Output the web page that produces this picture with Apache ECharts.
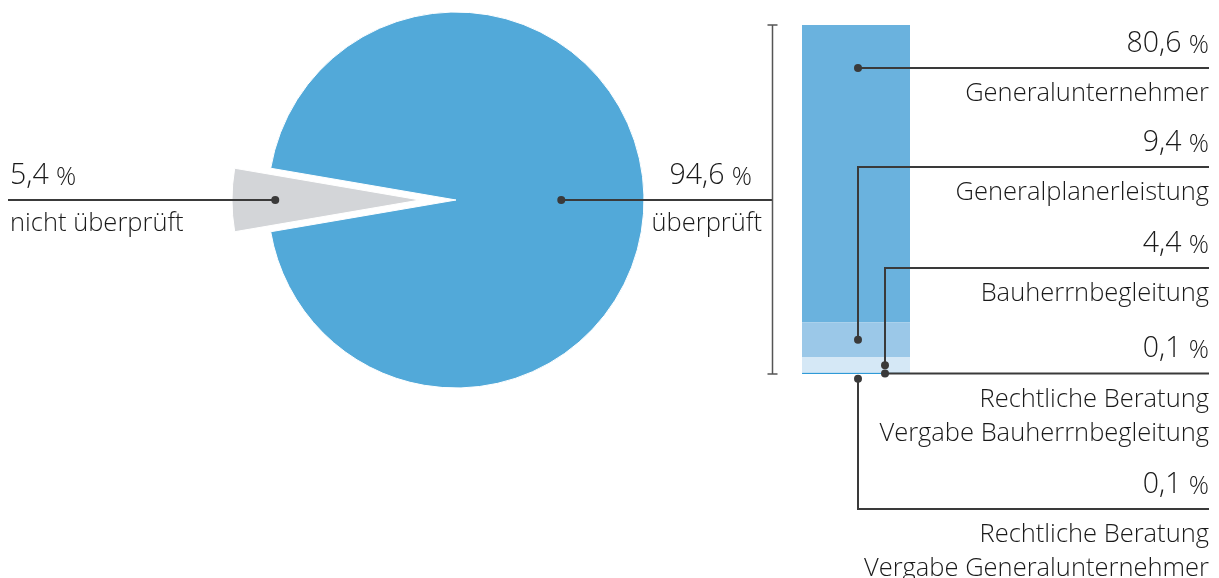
<!DOCTYPE html>
<html>
<head>
<meta charset="utf-8">
<script src="https://cdn.jsdelivr.net/npm/echarts@6/dist/echarts.min.js"></script>
<style>
html, body { margin: 0; padding: 0; background: #fff; }
#main { width: 1219px; height: 578px; }
</style>
</head>
<body>
<div id="main"></div>
<script>
// data
var pieNames = ['nicht überprüft', 'überprüft'];
var pieValues = [5.4, 94.6];
var pieLabels = ['5,4', '94,6'];

var barNames = [
    'Generalunternehmer',
    'Generalplanerleistung',
    'Bauherrnbegleitung',
    'Rechtliche Beratung\nVergabe Bauherrnbegleitung',
    'Rechtliche Beratung\nVergabe Generalunternehmer'
];
var barValues = [80.6, 9.4, 4.4, 0.1, 0.1];
var barLabels = ['80,6', '9,4', '4,4', '0,1', '0,1'];

// styles / layout
var FONT = '"Open Sans", "DejaVu Sans", sans-serif';
var TXT = '#1a1a1a';
var LINE = '#3a3a3a';
var pieColors = ['#d3d5d8', '#52a9d9'];
var barColors = ['#6ab2de', '#9bc8e8', '#d5e8f6', '#2f9bd7', '#d5e8f6'];
var barBorder = [0, 0, 0, 1, 0];      // thin 0,1 % slice shown as a line
var barMinH = [0, 0, 0, 0, 3];
var PIE_C = [456, 200], PIE_R = 188, PIE_OFF = 36;
var RIGHT = 1209;
var rowY = [68, 167, 268, null, 509];   // null -> row runs through the dot
var dotDx = [2, 2, 29, 29, 2];

var myChart = echarts.init(document.getElementById('main'));

var total = pieValues[0] + pieValues[1];
var halfGray = pieValues[0] / total * 360 / 2;

var series = barValues.map(function (v, i) {
    return {
        name: barNames[i],
        type: 'bar',
        stack: 'all',
        data: [v],
        barWidth: '100%',
        barMinHeight: barMinH[i],
        z: i === 3 ? 3 : 2,
        silent: true,
        itemStyle: { color: barColors[i], borderColor: barColors[i], borderWidth: barBorder[i] }
    };
});
series.push({
    type: 'pie',
    center: PIE_C,
    radius: PIE_R,
    startAngle: 180 + halfGray,
    clockwise: true,
    selectedMode: 'single',
    selectedOffset: PIE_OFF,
    silent: true,
    label: { show: false },
    labelLine: { show: false },
    itemStyle: { borderColor: '#fff', borderWidth: 1 },
    emphasis: { disabled: true },
    data: pieValues.map(function (v, i) {
        return { name: pieNames[i], value: v, selected: i === 0, itemStyle: { color: pieColors[i] } };
    })
});

var option = {
    animation: false,
    grid: { left: 802, width: 108, top: 25, bottom: 204 },
    xAxis: { type: 'category', data: [''], show: false },
    yAxis: { type: 'value', inverse: true, min: 0, max: pieValues[1], show: false },
    series: series
};
myChart.setOption(option);

// annotations
function valueText(x, yBase, label, align) {
    var tok = function (size) {
        return { fontSize: size, lineHeight: size, verticalAlign: 'bottom', fontFamily: FONT, fontWeight: 300, color: TXT };
    };
    return {
        type: 'text', z: 10, silent: true,
        style: {
            x: x, y: yBase + 6, text: '{n|' + label + ' }{p|%}',
            align: align, verticalAlign: 'bottom',
            fontFamily: FONT, fontWeight: 300, fill: TXT,
            rich: { n: tok(28.5), p: tok(25) }
        }
    };
}
function nameText(x, yBase, text, align) {
    return {
        type: 'text', z: 10, silent: true,
        style: {
            x: x, y: yBase - 24, text: text, align: align, verticalAlign: 'top',
            fontSize: 25.5, lineHeight: 34, fontFamily: FONT, fontWeight: 300, fill: TXT
        }
    };
}
function dot(x, y) {
    return { type: 'circle', z: 11, silent: true, shape: { cx: x, cy: y, r: 4 }, style: { fill: LINE } };
}
function poly(points, w, color) {
    return { type: 'polyline', z: 10, silent: true, shape: { points: points }, style: { stroke: color || LINE, lineWidth: w || 2, fill: null } };
}

var g = [];

// pie connectors
var grayTip = [PIE_C[0] - PIE_OFF, PIE_C[1]];
var grayDot = [grayTip[0] - PIE_R * 0.77, PIE_C[1]];
var blueDot = [PIE_C[0] + PIE_R * 0.56, PIE_C[1]];
var bracketX = 802 - 29.5;
g.push(poly([[8, grayDot[1]], grayDot], 2));
g.push(dot(grayDot[0], grayDot[1]));
g.push(valueText(10, grayDot[1] - 16, pieLabels[0], 'left'));
g.push(nameText(10, grayDot[1] + 31, pieNames[0], 'left'));

g.push(poly([blueDot, [bracketX, blueDot[1]]], 2));
g.push(dot(blueDot[0], blueDot[1]));
g.push(valueText(752, blueDot[1] - 16, pieLabels[1], 'right'));
g.push(nameText(762, blueDot[1] + 31, pieNames[1], 'right'));

// bracket spanning the bar
var yTop = myChart.convertToPixel({ gridIndex: 0 }, [0, 0])[1];
var yBot = myChart.convertToPixel({ gridIndex: 0 }, [0, pieValues[1]])[1];
g.push(poly([[bracketX - 5, yTop], [bracketX + 5, yTop]], 1.5, '#555'));
g.push(poly([[bracketX, yTop], [bracketX, yBot]], 1.5, '#555'));
g.push(poly([[bracketX - 5, yBot], [bracketX + 5, yBot]], 1.5, '#555'));

// bar connectors
var cum = 0;
barValues.forEach(function (v, i) {
    var p0 = myChart.convertToPixel({ gridIndex: 0 }, [0, cum]);
    var p1 = myChart.convertToPixel({ gridIndex: 0 }, [0, cum + v]);
    cum += v;
    var y0 = p0[1], y1 = Math.max(p1[1], p0[1] + barMinH[i]);
    var dx = p0[0] + dotDx[i];
    var dy;
    if (i === 0) dy = rowY[0];
    else if (i === 4) dy = y1 + 2;
    else dy = (y0 + y1) / 2;
    var ry = rowY[i] === null ? dy : rowY[i];
    g.push(poly([[dx, dy], [dx, ry], [RIGHT, ry]], 2));
    g.push(dot(dx, dy));
    g.push(valueText(RIGHT, ry - 16, barLabels[i], 'right'));
    g.push(nameText(RIGHT, ry + 33, barNames[i], 'right'));
});

myChart.setOption({ graphic: g });
</script>
</body>
</html>
